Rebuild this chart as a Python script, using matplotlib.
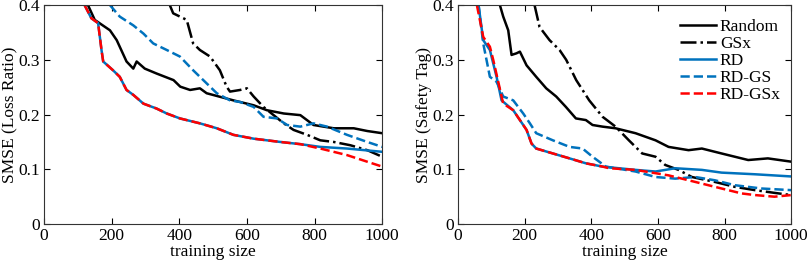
import matplotlib.pyplot as plt

plt.rcParams['font.family'] = ['Liberation Serif', 'DejaVu Serif']
plt.rcParams['font.size'] = 12.5

blue = '#0072BD'
red = '#FF0000'

# Left panel: SMSE (Loss Ratio)
l_random_x = [130, 150, 195, 215, 244, 264, 274, 298, 333, 383, 403, 432, 461, 481, 560, 620, 659, 709, 758, 797, 857, 916, 956, 1000]
l_random_y = [0.4, 0.373, 0.354, 0.336, 0.297, 0.284, 0.297, 0.284, 0.275, 0.263, 0.251, 0.245, 0.248, 0.239, 0.226, 0.217, 0.208, 0.202, 0.199, 0.181, 0.175, 0.175, 0.170, 0.166]
l_gsx_x = [372, 382, 422, 441, 461, 491, 520, 540, 550, 580, 600, 620, 649, 679, 709, 738, 778, 817, 857, 906, 956, 1000]
l_gsx_y = [0.4, 0.385, 0.373, 0.330, 0.318, 0.306, 0.281, 0.251, 0.242, 0.245, 0.248, 0.233, 0.214, 0.199, 0.184, 0.172, 0.163, 0.153, 0.150, 0.144, 0.135, 0.123]
l_rd_x = [120, 140, 160, 170, 175, 204, 224, 244, 264, 294, 333, 363, 402, 461, 511, 560, 620, 699, 758, 817, 896, 1000]
l_rd_y = [0.4, 0.376, 0.367, 0.318, 0.297, 0.281, 0.269, 0.245, 0.236, 0.220, 0.211, 0.202, 0.193, 0.184, 0.175, 0.163, 0.156, 0.150, 0.146, 0.141, 0.138, 0.132]
l_rdgs_x = [195, 224, 264, 294, 323, 363, 402, 441, 471, 511, 550, 580, 620, 649, 689, 719, 758, 797, 837, 896, 956, 1000]
l_rdgs_y = [0.4, 0.379, 0.363, 0.348, 0.330, 0.318, 0.306, 0.281, 0.263, 0.239, 0.226, 0.223, 0.214, 0.196, 0.193, 0.181, 0.178, 0.184, 0.178, 0.163, 0.150, 0.141]
l_rdgsx_x = [120, 140, 160, 170, 175, 204, 224, 244, 264, 294, 333, 363, 402, 461, 511, 560, 620, 699, 758, 817, 896, 1000]
l_rdgsx_y = [0.4, 0.376, 0.367, 0.318, 0.297, 0.281, 0.269, 0.245, 0.236, 0.220, 0.211, 0.202, 0.193, 0.184, 0.175, 0.163, 0.156, 0.150, 0.146, 0.138, 0.126, 0.105]

# Right panel: SMSE (Safety Tag)
r_random_x = [126, 136, 151, 161, 176, 186, 206, 235, 265, 295, 324, 354, 384, 404, 434, 473, 533, 593, 632, 692, 732, 791, 871, 930, 1000]
r_random_y = [0.4, 0.379, 0.354, 0.309, 0.312, 0.315, 0.290, 0.269, 0.248, 0.233, 0.214, 0.193, 0.190, 0.181, 0.178, 0.175, 0.166, 0.153, 0.141, 0.135, 0.138, 0.129, 0.117, 0.120, 0.114]
r_gsx_x = [230, 245, 275, 305, 325, 355, 394, 434, 473, 513, 553, 593, 622, 662, 702, 771, 831, 891, 950, 1000]
r_gsx_y = [0.4, 0.360, 0.336, 0.318, 0.300, 0.263, 0.226, 0.196, 0.178, 0.153, 0.129, 0.123, 0.108, 0.099, 0.086, 0.077, 0.068, 0.062, 0.057, 0.053]
r_rd_x = [62, 76, 96, 116, 131, 166, 186, 206, 221, 235, 285, 335, 384, 434, 483, 533, 593, 652, 732, 791, 891, 1000]
r_rd_y = [0.4, 0.336, 0.318, 0.269, 0.226, 0.208, 0.190, 0.172, 0.147, 0.138, 0.129, 0.120, 0.111, 0.105, 0.102, 0.099, 0.096, 0.102, 0.099, 0.094, 0.091, 0.087]
r_rdgs_x = [62, 76, 96, 116, 136, 166, 196, 216, 235, 285, 335, 374, 404, 444, 473, 533, 593, 652, 712, 771, 831, 911, 1000]
r_rdgs_y = [0.4, 0.330, 0.269, 0.260, 0.233, 0.226, 0.202, 0.184, 0.166, 0.153, 0.141, 0.138, 0.123, 0.105, 0.102, 0.096, 0.086, 0.083, 0.086, 0.080, 0.071, 0.065, 0.062]
r_rdgsx_x = [57, 76, 96, 106, 136, 166, 186, 206, 221, 235, 285, 335, 384, 434, 454, 533, 632, 712, 791, 851, 891, 950, 1000]
r_rdgsx_y = [0.4, 0.342, 0.324, 0.300, 0.220, 0.208, 0.190, 0.172, 0.147, 0.138, 0.129, 0.120, 0.111, 0.105, 0.102, 0.099, 0.089, 0.077, 0.065, 0.056, 0.053, 0.050, 0.053]

fig = plt.figure(figsize=(8.09, 2.69), dpi=100)
ax1 = fig.add_axes([0.0544, 0.167, 0.418, 0.814])
ax2 = fig.add_axes([0.566, 0.167, 0.412, 0.814])

lw = 1.8
for ax, data in [
    (ax1, [(l_random_x, l_random_y), (l_gsx_x, l_gsx_y), (l_rd_x, l_rd_y), (l_rdgs_x, l_rdgs_y), (l_rdgsx_x, l_rdgsx_y)]),
    (ax2, [(r_random_x, r_random_y), (r_gsx_x, r_gsx_y), (r_rd_x, r_rd_y), (r_rdgs_x, r_rdgs_y), (r_rdgsx_x, r_rdgsx_y)]),
]:
    ax.plot(*data[0], color='black', lw=lw, label='Random')
    ax.plot(*data[1], color='black', lw=lw, ls='-.', label='GSx')
    ax.plot(*data[2], color=blue, lw=lw, label='RD')
    ax.plot(*data[3], color=blue, lw=lw, ls='--', label='RD-GS')
    ax.plot(*data[4], color=red, lw=lw, ls='--', label='RD-GSx')
    ax.set_xlim(0, 1000)
    ax.set_ylim(0, 0.4)
    ax.set_xticks([0, 200, 400, 600, 800, 1000])
    ax.set_yticks([0, 0.1, 0.2, 0.3, 0.4])
    ax.set_yticklabels(['0', '0.1', '0.2', '0.3', '0.4'])
    ax.tick_params(direction='in', top=True, right=True, length=4, pad=3)
    ax.set_xlabel('training size', labelpad=0)
    for s in ax.spines.values():
        s.set_linewidth(0.8)
        s.set_color('#333333')

ax1.set_ylabel('SMSE (Loss Ratio)', labelpad=0)
ax2.set_ylabel('SMSE (Safety Tag)', labelpad=0)
ax2.legend(loc='upper right', frameon=False, handlelength=2.1, labelspacing=0.05,
           handletextpad=0.2, borderaxespad=0.2, bbox_to_anchor=(1.0, 0.985))

fig.savefig('out.png', dpi=100)
